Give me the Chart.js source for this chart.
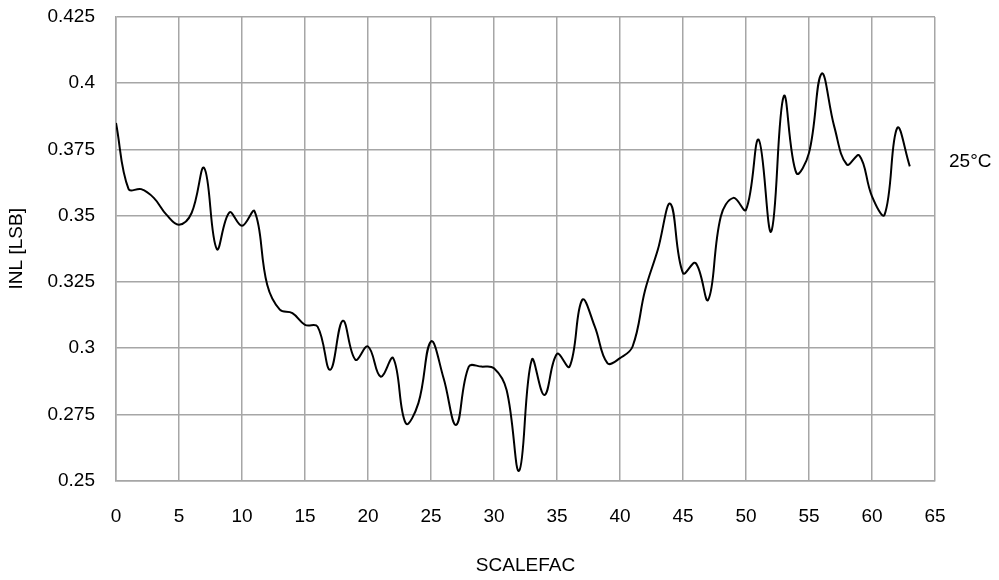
<!DOCTYPE html>
<html>
<head>
<meta charset="utf-8">
<script src="https://cdn.jsdelivr.net/npm/chart.js@4.4.0/dist/chart.umd.min.js"></script>
<style>
  html, body { margin: 0; padding: 0; background: #fff; }
  #wrap { width: 999px; height: 580px; }
</style>
</head>
<body>
<div id="wrap"><canvas id="inlChart" width="999" height="580"></canvas></div>
<script>
// values
const scalefac = [0, 1, 2, 3, 4, 5, 6, 7, 8, 9, 10, 11, 12, 13, 14, 15, 16, 17, 18, 19,
  20, 21, 22, 23, 24, 25, 26, 27, 28, 29, 30, 31, 32, 33, 34, 35, 36, 37, 38, 39,
  40, 41, 42, 43, 44, 45, 46, 47, 48, 49, 50, 51, 52, 53, 54, 55, 56, 57, 58, 59,
  60, 61, 62, 63];
const inl = [0.385, 0.360, 0.360, 0.3567, 0.3504, 0.3466, 0.351, 0.368, 0.3374, 0.3512,
  0.3462, 0.3516, 0.3239, 0.3145, 0.3132, 0.3088, 0.3081, 0.2918, 0.3103, 0.2956,
  0.3006, 0.2892, 0.2962, 0.2716, 0.2792, 0.3025, 0.2886, 0.271, 0.293, 0.293,
  0.2924, 0.2842, 0.2537, 0.2956, 0.2823, 0.2978, 0.293, 0.3182, 0.3081, 0.2943,
  0.2962, 0.3006, 0.322, 0.3371, 0.3545, 0.3283, 0.3321, 0.3182, 0.3497, 0.3567,
  0.3522, 0.3787, 0.344, 0.3951, 0.3661, 0.3737, 0.4036, 0.3837, 0.3693, 0.3727,
  0.3573, 0.3504, 0.3831, 0.3686];
const seriesName = '25°C';

const xTickValues = [0, 5, 10, 15, 20, 25, 30, 35, 40, 45, 50, 55, 60, 65];
const yTickValues = [0.25, 0.275, 0.3, 0.325, 0.35, 0.375, 0.4, 0.425];
const yTickLabels = ['0.25', '0.275', '0.3', '0.325', '0.35', '0.375', '0.4', '0.425'];

const FONT = "'Liberation Sans', Arial, sans-serif";
const GRID = '#a6a6a6';

// label at the end of the line, outside the plot area
const endLabel = {
  id: 'endLabel',
  afterDatasetsDraw(chart) {
    const meta = chart.getDatasetMeta(0);
    const last = meta.data[meta.data.length - 1];
    const ctx = chart.ctx;
    ctx.save();
    ctx.font = '19px ' + FONT;
    ctx.fillStyle = '#000';
    ctx.textAlign = 'left';
    ctx.textBaseline = 'middle';
    ctx.fillText(chart.data.datasets[0].label, chart.chartArea.right + 14, last.y - 5);
    ctx.restore();
  }
};

new Chart(document.getElementById('inlChart').getContext('2d'), {
  type: 'line',
  data: {
    datasets: [{
      label: seriesName,
      data: scalefac.map((s, i) => ({ x: s, y: inl[i] })),
      borderColor: '#000',
      borderWidth: 2,
      pointRadius: 0,
      tension: 0.4,
      fill: false
    }]
  },
  options: {
    responsive: false,
    animation: false,
    devicePixelRatio: 1,
    layout: { padding: { top: 17, right: 64, left: 0, bottom: 0 } },
    plugins: {
      legend: { display: false },
      tooltip: { enabled: false }
    },
    scales: {
      x: {
        type: 'linear',
        min: 0,
        max: 65,
        afterBuildTicks: (scale) => { scale.ticks = xTickValues.map(v => ({ value: v })); },
        afterFit: (scale) => { scale.height = 99.5; },
        grid: { color: GRID, lineWidth: 1.5, drawTicks: false },
        border: { color: GRID, width: 1.5 },
        ticks: {
          color: '#000',
          font: { family: FONT, size: 19 },
          padding: 25,
          maxRotation: 0,
          callback: (v) => String(v)
        },
        title: {
          display: true,
          text: 'SCALEFAC',
          color: '#000',
          font: { family: FONT, size: 19 },
          padding: { top: 0, bottom: 3 }
        }
      },
      y: {
        min: 0.25,
        max: 0.425,
        afterBuildTicks: (scale) => { scale.ticks = yTickValues.map(v => ({ value: v })); },
        afterFit: (scale) => {
          scale.width = 116;
          scale.paddingTop = 0;
          scale.paddingBottom = 0;
        },
        grid: { color: GRID, lineWidth: 1.5, drawTicks: false },
        border: { color: GRID, width: 1.5 },
        ticks: {
          color: '#000',
          font: { family: FONT, size: 19 },
          padding: 21,
          callback: (v, i) => yTickLabels[i]
        },
        title: {
          display: true,
          text: 'INL [LSB]',
          color: '#000',
          font: { family: FONT, size: 19 },
          padding: { top: 5, bottom: 0 }
        }
      }
    }
  },
  plugins: [endLabel]
});
</script>
</body>
</html>
